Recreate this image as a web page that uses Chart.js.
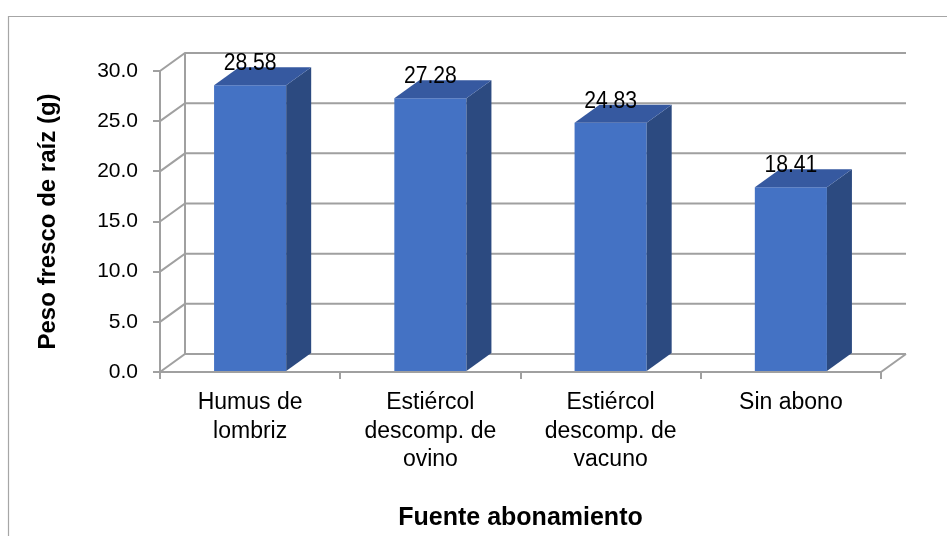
<!DOCTYPE html>
<html>
<head>
<meta charset="utf-8">
<script src="https://cdn.jsdelivr.net/npm/chart.js@4.4.1/dist/chart.umd.min.js"></script>
<style>
  html, body { margin: 0; padding: 0; background: #fff; }
  canvas { display: block; }
</style>
</head>
<body>
<canvas id="chart" width="947" height="536"></canvas>
<script>
// Categories (fertiliser source) and measured root fresh weight (g)
const categories = [
  ["Humus de", "lombriz"],
  ["Estiércol", "descomp. de", "ovino"],
  ["Estiércol", "descomp. de", "vacuno"],
  ["Sin abono"]
];
const pesoFresco = [28.58, 27.28, 24.83, 18.41];
const yTicks = [0, 5, 10, 15, 20, 25, 30];

const FONT = '"Liberation Sans", Arial, Helvetica, sans-serif';
const GRID = '#a0a0a0';
const FRONT = '#4472c4';
const SIDE = '#2c4a80';
const TOP = '#3659a0';
const DX = 25, DY = -18;   // depth offset of the 3D box

Chart.defaults.font.family = FONT;
Chart.defaults.color = '#000';

// Outer frame of the chart object
const framePlugin = {
  id: 'frame',
  beforeDraw(chart) {
    const { ctx, width, height } = chart;
    ctx.save();
    ctx.fillStyle = '#fff';
    ctx.fillRect(0, 0, width, height);
    ctx.strokeStyle = '#a6a6a6';
    ctx.lineWidth = 1.2;
    ctx.beginPath();
    ctx.moveTo(8.5, height);
    ctx.lineTo(8.5, 16.5);
    ctx.lineTo(width, 16.5);
    ctx.stroke();
    ctx.restore();
  }
};

// Back wall, side wall, floor edge and the 3D faces of each bar
const box3dPlugin = {
  id: 'box3d',
  beforeDatasetsDraw(chart) {
    const { ctx, chartArea: a, scales: { y } } = chart;
    ctx.save();
    ctx.strokeStyle = GRID;
    ctx.lineWidth = 2;
    ctx.beginPath();
    y.ticks.forEach(t => {
      const py = y.getPixelForValue(t.value);
      ctx.moveTo(a.left, py);
      ctx.lineTo(a.left + DX, py + DY);
      ctx.lineTo(a.right + DX, py + DY);
    });
    const top = y.getPixelForValue(y.max);
    const base = y.getPixelForValue(y.min);
    ctx.moveTo(a.left + DX, top + DY);
    ctx.lineTo(a.left + DX, base + DY);
    ctx.moveTo(a.right, base);
    ctx.lineTo(a.right + DX, base + DY);
    ctx.stroke();
    ctx.restore();
  },
  afterDatasetsDraw(chart) {
    const { ctx } = chart;
    const meta = chart.getDatasetMeta(0);
    ctx.save();
    meta.data.forEach((bar, i) => {
      const { x, y, width, base } = bar.getProps(['x', 'y', 'width', 'base'], true);
      const l = x - width / 2, r = x + width / 2;
      ctx.fillStyle = SIDE;
      ctx.beginPath();
      ctx.moveTo(r, y);
      ctx.lineTo(r + DX, y + DY);
      ctx.lineTo(r + DX, base + DY);
      ctx.lineTo(r, base);
      ctx.closePath();
      ctx.fill();
      ctx.fillStyle = TOP;
      ctx.beginPath();
      ctx.moveTo(l, y);
      ctx.lineTo(l + DX, y + DY);
      ctx.lineTo(r + DX, y + DY);
      ctx.lineTo(r, y);
      ctx.closePath();
      ctx.fill();
      // value label, slightly condensed
      ctx.save();
      ctx.translate(x, y - 15);
      ctx.scale(0.92, 1);
      ctx.fillStyle = '#000';
      ctx.font = '23px ' + FONT;
      ctx.textAlign = 'center';
      ctx.textBaseline = 'alphabetic';
      ctx.fillText(pesoFresco[i].toFixed(2), 0, 0);
      ctx.restore();
    });
    ctx.restore();
  }
};

new Chart(document.getElementById('chart'), {
  type: 'bar',
  data: {
    labels: categories,
    datasets: [{
      data: pesoFresco,
      backgroundColor: FRONT,
      borderWidth: 0,
      barPercentage: 0.4,
      categoryPercentage: 1.0
    }]
  },
  options: {
    responsive: false,
    animation: false,
    layout: { padding: { left: 9, right: 66, top: 71, bottom: 0 } },
    plugins: {
      legend: { display: false },
      tooltip: { enabled: false }
    },
    scales: {
      x: {
        offset: true,
        grid: { drawOnChartArea: false, drawTicks: true, tickLength: 7, color: GRID, lineWidth: 2, offset: true },
        border: { display: true, color: GRID, width: 2 },
        ticks: {
          autoSkip: false, maxRotation: 0, minRotation: 0,
          padding: 10,
          color: '#000',
          font: { size: 23, lineHeight: 1.23 }
        },
        title: {
          display: true,
          text: 'Fuente abonamiento',
          color: '#000',
          font: { size: 25, weight: 'bold' },
          padding: { top: 0, bottom: 3 }
        },
        afterFit(s) { s.height = 164; }
      },
      y: {
        min: 0, max: 30,
        afterBuildTicks(s) { s.ticks = yTicks.map(v => ({ value: v })); },
        grid: { drawOnChartArea: false, drawTicks: true, tickLength: 7, color: GRID, lineWidth: 2 },
        border: { display: true, color: GRID, width: 2 },
        ticks: {
          padding: 15,
          color: '#000',
          font: { size: 21 },
          callback: v => Number(v).toFixed(1)
        },
        title: {
          display: true,
          text: 'Peso fresco de raíz (g)',
          color: '#000',
          font: { size: 24, weight: 'bold' },
          padding: { top: 25, bottom: 0 }
        },
        afterFit(s) { s.width = 151; }
      }
    }
  },
  plugins: [framePlugin, box3dPlugin]
});
</script>
</body>
</html>
